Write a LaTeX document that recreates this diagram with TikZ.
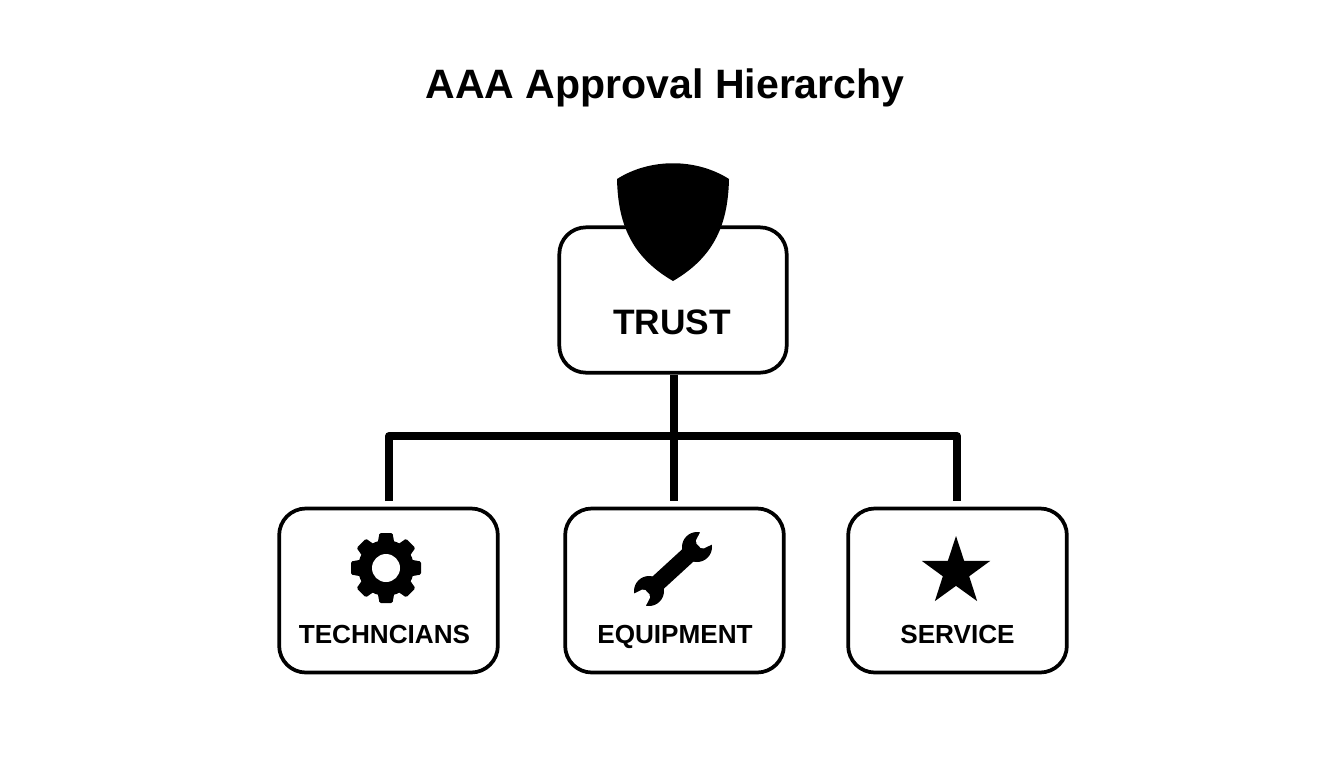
\documentclass[tikz,border=0pt]{standalone}
\usepackage{fontspec}
\setmainfont{Liberation Sans}
\usetikzlibrary{shapes.geometric, positioning, calc}

\begin{document}
\begin{tikzpicture}[x=0.75pt, y=-0.75pt,
    stagebox/.style={rectangle, 
      draw, 
      line width=2.8pt, 
      rounded corners=20pt, 
      fill=white, 
      minimum width=164pt, 
      minimum height=123pt},
    stagelabel/.style={font=\bfseries\fontsize{19.6pt}{22pt}\selectfont, 
      anchor=base, 
      inner sep=0pt},
    busline/.style={line width=6pt, 
      line join=round}]

  \useasboundingbox (0,0) rectangle (1344,768);

  \node [font=\bfseries\fontsize{30.8pt}{36pt}\selectfont, 
    anchor=base, 
    inner sep=0pt] (title) at (665,98) {AAA Approval Hierarchy};

  \node [stagebox, 
    minimum width=170.5pt, 
    minimum height=109pt] (trust) at (673,300) {};
  \node [font=\bfseries\fontsize{26.5pt}{30pt}\selectfont, 
    anchor=base, 
    inner sep=0pt] (trustlabel) at (672,334) {TRUST};

  \node [stagebox] (tech) at (388.5,590.5) {};
  \node [stagelabel] (techlabel) at (384.5,643) {TECHNCIANS};

  \node [stagebox] (equip) at (674.5,590.5) {};
  \node [stagelabel] (equiplabel) at (675,643) {EQUIPMENT};

  \node [stagebox] (service) at (957.5,590.5) {};
  \node [stagelabel] (servicelabel) at (957.5,643) {SERVICE};

% ICONS

  \fill (617,179) .. controls (650,158) and (696,158) .. (729,179) 
  .. controls (728,222) and (716,256) .. (673,281) 
  .. controls (630,256) and (618,222) .. (617,179) -- cycle;

  \coordinate (gearmid) at (386,568);
  \fill (gearmid) circle [radius=28];
  \foreach \ang in {0,45,...,315} {
    \fill [rotate around={\ang:(gearmid)}, rounded corners=1pt] 
    ($(gearmid)+(-8.5,-24)$) -- ($(gearmid)+(-6.5,-35)$) 
    -- ($(gearmid)+(6.5,-35)$) -- ($(gearmid)+(8.5,-24)$) -- cycle;
  }
  \fill [white] (gearmid) circle [radius=14];

  \coordinate (wrenchtop) at (697,547);
  \coordinate (wrenchlow) at (649,591);
  \draw [line width=12.5pt] (wrenchtop) -- (wrenchlow);
  \fill (wrenchtop) circle [radius=15];
  \fill (wrenchlow) circle [radius=15];
  \foreach \tip/\sgn in {wrenchtop/1, wrenchlow/-1} {
    \fill [white, rounded corners=1.5pt] 
    ($(\tip)+\sgn*(4.9,2.3)$) -- ($(\tip)+\sgn*(-1.9,-5)$) 
    -- ($(\tip)+\sgn*(7,-22)$) -- ($(\tip)+\sgn*(22,-6)$) -- cycle;
  }

  \node [star, 
    star points=5, 
    star point ratio=2.6, 
    fill=black, 
    inner sep=0pt, 
    minimum size=54pt] (staricon) at (956,572) {};

% BUS LINES

  \coordinate (techtip) at (389,501);
  \coordinate (equiptip) at (673.5,501);
  \coordinate (servicetip) at (957,501);
  \coordinate (busmid) at (673.5,436);

  \draw [busline] (trust.south -| equiptip) -- (equiptip);
  \draw [busline] (techtip) |- (busmid) -| (servicetip);

\end{tikzpicture}
\end{document}
